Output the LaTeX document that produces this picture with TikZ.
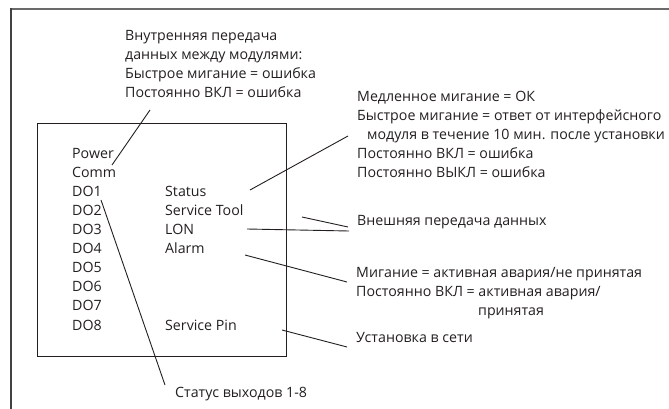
\documentclass[tikz,border=0pt]{standalone}
\usepackage{fontspec}
\setmainfont{Open Sans}
\definecolor{ink}{HTML}{231F20}
\definecolor{framegray}{HTML}{6A6A6A}
\begin{document}
\begin{tikzpicture}[x=1pt,y=-1pt,
  txt/.style={anchor=base west, inner sep=0pt, text=ink, font=\fontsize{14.2}{17}\selectfont},
  lead/.style={draw=ink, line width=0.9pt},
  boxline/.style={draw=ink, line width=1.2pt}]
\useasboundingbox (0,0) rectangle (669,409);
% outer frame
\draw[framegray, line width=2pt] (11,9) -- (669,9);
\draw[ink!85, line width=1.2pt] (11,8) -- (11,409);
% module box
\node[boxline, rectangle, inner sep=0pt, minimum width=249pt, minimum height=233pt, anchor=north west] (box) at (37,123) {};
% left column
\node[txt] (power) at (72,158) {Power};
\node[txt] (comm) at (72,177.1) {Comm};
\node[txt] (do1) at (72,196.2) {DO1};
\node[txt] (do2) at (72,215.3) {DO2};
\node[txt] (do3) at (72,234.4) {DO3};
\node[txt] (do4) at (72,253.5) {DO4};
\node[txt] (do5) at (72,272.6) {DO5};
\node[txt] (do6) at (72,291.7) {DO6};
\node[txt] (do7) at (72,310.8) {DO7};
\node[txt] (do8) at (72,330) {DO8};
% right column
\node[txt] (status) at (165,196.2) {Status};
\node[txt] (stool) at (165,215.3) {Service Tool};
\node[txt] (lon) at (165,234.4) {LON};
\node[txt] (alarm) at (165,253.5) {Alarm};
\node[txt] (spin) at (165,330) {Service Pin};
% top text block
\node[txt] (t1) at (125,41) {Внутренняя передача};
\node[txt] (t2) at (125,60) {данных между модулями:};
\node[txt] (t3) at (125,79) {Быстрое мигание = ошибка};
\node[txt] (t4) at (125,98) {Постоянно ВКЛ = ошибка};
% status block
\node[txt] (s1) at (357,102) {Медленное мигание = ОК};
\node[txt] (s2) at (357,120.5) {Быстрое мигание = ответ от интерфейсного};
\node[txt] (s3) at (367,139.5) {модуля в течение 10 мин. после установки};
\node[txt] (s4) at (357,158.5) {Постоянно ВКЛ = ошибка};
\node[txt] (s5) at (357,177.5) {Постоянно ВЫКЛ = ошибка};
% external comm
\node[txt] (ext) at (357,225) {Внешняя передача данных};
% alarm block
\node[txt] (a1) at (356,277) {Мигание = активная авария/не принятая};
\node[txt] (a2) at (356,296) {Постоянно ВКЛ = активная авария/};
\node[txt] (a3) at (478,315) {принятая};
% service pin
\node[txt] (net) at (356,342) {Установка в сети};
% outputs
\node[txt] (out) at (175,397) {Статус выходов 1-8};
% connector ends
\coordinate (cA1) at (150,110); \coordinate (cA2) at (112,165);
\coordinate (cB1) at (250,190); \coordinate (cB2) at (348,136);
\coordinate (cC1) at (302,217); \coordinate (cC2) at (348,227);
\coordinate (cD1) at (247,229); \coordinate (cD2) at (349,231);
\coordinate (cE1) at (245,255); \coordinate (cE2) at (347,282);
\coordinate (cF1) at (282,330); \coordinate (cF2) at (347,347);
\coordinate (cG1) at (101,200); \coordinate (cG2) at (165,385);
\draw[lead] (cA1) -- (cA2);
\draw[lead] (cB1) -- (cB2);
\draw[lead] (cC1) -- (cC2);
\draw[lead] (cD1) -- (cD2);
\draw[lead] (cE1) -- (cE2);
\draw[lead] (cF1) -- (cF2);
\draw[lead] (cG1) -- (cG2);
\end{tikzpicture}
\end{document}
